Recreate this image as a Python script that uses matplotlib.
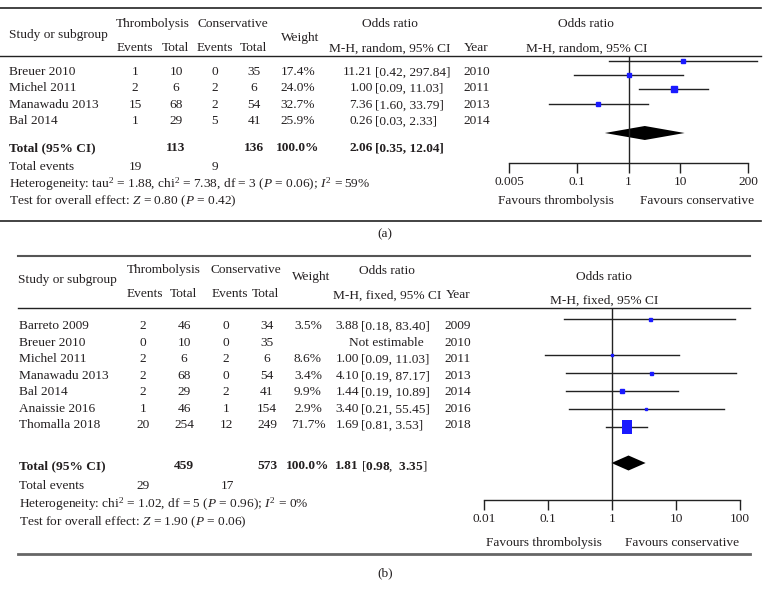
import matplotlib
matplotlib.use("Agg")
import matplotlib.pyplot as plt
from matplotlib.lines import Line2D
from matplotlib.path import Path

plt.rcParams['font.family'] = ['Liberation Serif', 'DejaVu Serif']
plt.rcParams['mathtext.fontset'] = 'custom'
plt.rcParams['mathtext.rm'] = 'Liberation Serif'
plt.rcParams['mathtext.it'] = 'Liberation Serif:italic'
plt.rcParams['mathtext.bf'] = 'Liberation Serif:bold'

# ---------------- data: panel (a) ----------------
a_studies = ['Breuer 2010', 'Michel 2011', 'Manawadu 2013', 'Bal 2014']
a_thr_events = [1, 2, 15, 1]
a_thr_total = [10, 6, 68, 29]
a_con_events = [0, 2, 2, 5]
a_con_total = [35, 6, 54, 41]
a_weight = ['17.4%', '24.0%', '32.7%', '25.9%']
a_or = [11.21, 1.00, 7.36, 0.26]
a_lo = [0.42, 0.09, 1.60, 0.03]
a_hi = [297.84, 11.03, 33.79, 2.33]
a_year = ['2010', '2011', '2013', '2014']
a_sum_totals = [113, 136]
a_sum_or = [2.06, 0.35, 12.04]
a_sum_events = [19, 9]
a_het = r"Heterogeneity: tau$^{2}$ = 1.88, chi$^{2}$ = 7.38, df = 3 ($P$ = 0.06); $I^{\mathrm{2}}$ = 59%"
a_test = r"Test for overall effect: $Z$ = 0.80 ($P$ = 0.42)"
a_ticks = [0.005, 0.1, 1, 10, 200]
a_ticklabels = ['0.005', '0.1', '1', '10', '200']

# ---------------- data: panel (b) ----------------
b_studies = ['Barreto 2009', 'Breuer 2010', 'Michel 2011', 'Manawadu 2013', 'Bal 2014',
             'Anaissie 2016', 'Thomalla 2018']
b_thr_events = [2, 0, 2, 2, 2, 1, 20]
b_thr_total = [46, 10, 6, 68, 29, 46, 254]
b_con_events = [0, 0, 2, 0, 2, 1, 12]
b_con_total = [34, 35, 6, 54, 41, 154, 249]
b_weight = ['3.5%', '', '8.6%', '3.4%', '9.9%', '2.9%', '71.7%']
b_or = [3.88, None, 1.00, 4.10, 1.44, 3.40, 1.69]
b_lo = [0.18, None, 0.09, 0.19, 0.19, 0.21, 0.81]
b_hi = [83.40, None, 11.03, 87.17, 10.89, 55.45, 3.53]
b_year = ['2009', '2010', '2011', '2013', '2014', '2016', '2018']
b_sum_totals = [459, 573]
b_sum_or = [1.81, 0.98, 3.35]
b_sum_events = [29, 17]
b_het = r"Heterogeneity: chi$^{2}$ = 1.02, df = 5 ($P$ = 0.96); $I^{\mathrm{2}}$ = 0%"
b_test = r"Test for overall effect: $Z$ = 1.90 ($P$ = 0.06)"
b_ticks = [0.01, 0.1, 1, 10, 100]
b_ticklabels = ['0.01', '0.1', '1', '10', '100']

# ---------------- layout ----------------
W, H = 770, 597
FS = 9.6
TXT = '#231f20'
BLUE = '#1a1aff'
PT = 0.72  # points per pixel at 100 dpi

fig = plt.figure(figsize=(W / 100, H / 100), dpi=100)


def T(x, y, s, ha='left', bold=False, size=FS, color=TXT):
    fig.text(x / W, 1 - (y + 4.3) / H, s, ha=ha, va='baseline', fontsize=size,
             fontweight='bold' if bold else 'normal', color=color)


def HL(x0, x1, y, lw=1.0, color='#222222'):
    fig.add_artist(Line2D([x0 / W, x1 / W], [1 - y / H, 1 - y / H],
                          transform=fig.transFigure, color=color, lw=lw))


def fmt_ci(lo, hi):
    return f"[{lo:.2f}, {hi:.2f}]"


def forest_axes(x0, x1, ytop, ybot, xlim, ticks, labels):
    ax = fig.add_axes([x0 / W, 1 - ybot / H, (x1 - x0) / W, (ybot - ytop) / H])
    ax.set_xscale('log')
    ax.set_xlim(*xlim)
    ax.set_ylim(ybot, ytop)
    ax.patch.set_alpha(0)
    for s in ['top', 'left', 'right']:
        ax.spines[s].set_visible(False)
    ax.spines['bottom'].set_color('#222222')
    ax.spines['bottom'].set_linewidth(1.0)
    ax.set_xticks(ticks)
    ax.set_xticklabels(labels, fontsize=FS, color=TXT)
    ax.minorticks_off()
    ax.tick_params(axis='x', which='major', direction='out', length=7, width=1.0,
                   color='#222222', pad=2.5)
    ax.set_yticks([])
    ax.axvline(1, color='#222222', lw=1.0)
    return ax


# ======================= Panel (a) =======================
HL(0, 761, 8, lw=1.2)
HL(0, 761, 56, lw=1.0)
HL(0, 761, 221, lw=1.2)

T(9, 34, 'Study or subgroup')
T(153, 23, 'Thrombolysis', ha='center')
T(233, 23, 'Conservative', ha='center')
for xc, s in zip([135, 175, 215, 253], ['Events', 'Total', 'Events', 'Total']):
    T(xc, 47, s, ha='center')
T(300, 37, 'Weight', ha='center')
T(390, 23, 'Odds ratio', ha='center')
T(390, 47, 'M-H, random, 95% CI', ha='center')
T(476, 47, 'Year', ha='center')
T(586, 23, 'Odds ratio', ha='center')
T(587, 47, 'M-H, random, 95% CI', ha='center')

a_rows = [71, 87, 104, 120]
for i, y in enumerate(a_rows):
    T(9, y, a_studies[i])
    T(135, y, str(a_thr_events[i]), ha='center')
    T(176, y, str(a_thr_total[i]), ha='center')
    T(215, y, str(a_con_events[i]), ha='center')
    T(254, y, str(a_con_total[i]), ha='center')
    T(298, y, a_weight[i], ha='center')
    T(373, y, f"{a_or[i]:.2f}", ha='right')
    T(375, y, fmt_ci(a_lo[i], a_hi[i]))
    T(477, y, a_year[i], ha='center')

yT = 147
T(9, yT, 'Total (95% CI)', bold=True)
T(176, yT, str(a_sum_totals[0]), ha='center', bold=True)
T(254, yT, str(a_sum_totals[1]), ha='center', bold=True)
T(298, yT, '100.0%', ha='center', bold=True)
T(373, yT, f"{a_sum_or[0]:.2f}", ha='right', bold=True)
T(375, yT, fmt_ci(a_sum_or[1], a_sum_or[2]), bold=True)
T(9, 166, 'Total events')
T(135, 166, str(a_sum_events[0]), ha='center')
T(215, 166, str(a_sum_events[1]), ha='center')
T(9, 183, a_het)
T(9, 200, a_test)
T(556, 200, 'Favours thrombolysis', ha='center')
T(697, 200, 'Favours conservative', ha='center')
T(385, 233, '(a)', ha='center')

axa = forest_axes(509, 748, 56, 163, (0.005, 200), a_ticks, a_ticklabels)
a_plot_y = [61, 75, 89, 104]
a_ms = [4, 5, 6, 4.5]
for i, y in enumerate(a_plot_y):
    axa.plot([a_lo[i], a_hi[i]], [y, y], color='#222222', lw=1.0, clip_on=False)
    axa.plot(a_or[i], y, marker='s', ms=a_ms[i] * PT, color=BLUE, mec=BLUE, clip_on=False)
yd, hd = 133, 14
axa.fill([a_sum_or[1], a_sum_or[0], a_sum_or[2], a_sum_or[0]],
         [yd, yd - hd / 2, yd, yd + hd / 2], color='black', lw=0, clip_on=False)

# ======================= Panel (b) =======================
HL(18, 750, 256, lw=1.5, color='#555555')
HL(18, 750, 308, lw=1.0)
HL(18, 750, 554, lw=2.0, color='#666666')

T(18, 279, 'Study or subgroup')
T(164, 269, 'Thrombolysis', ha='center')
T(246, 269, 'Conservative', ha='center')
for xc, s in zip([145, 184, 230, 265], ['Events', 'Total', 'Events', 'Total']):
    T(xc, 293, s, ha='center')
T(311, 276, 'Weight', ha='center')
T(387, 270, 'Odds ratio', ha='center')
T(387, 294, 'M-H, fixed, 95% CI', ha='center')
T(458, 294, 'Year', ha='center')
T(604, 276, 'Odds ratio', ha='center')
T(604, 299, 'M-H, fixed, 95% CI', ha='center')

b_rows = [325, 342, 358, 375, 391, 408, 424]
for i, y in enumerate(b_rows):
    T(19, y, b_studies[i])
    T(143, y, str(b_thr_events[i]), ha='center')
    T(184, y, str(b_thr_total[i]), ha='center')
    T(226, y, str(b_con_events[i]), ha='center')
    T(267, y, str(b_con_total[i]), ha='center')
    T(308, y, b_weight[i], ha='center')
    if b_or[i] is None:
        T(386, y, 'Not estimable', ha='center')
    else:
        T(359, y, f"{b_or[i]:.2f}", ha='right')
        T(361, y, fmt_ci(b_lo[i], b_hi[i]))
    T(458, y, b_year[i], ha='center')

yT = 465
T(19, yT, 'Total (95% CI)', bold=True)
T(184, yT, str(b_sum_totals[0]), ha='center', bold=True)
T(267, yT, str(b_sum_totals[1]), ha='center', bold=True)
T(308, yT, '100.0%', ha='center', bold=True)
T(359, yT, f"{b_sum_or[0]:.2f}", ha='right', bold=True)
T(361, yT, r"[$\mathbf{" + f"{b_sum_or[1]:.2f}" + r"}$,  $\mathbf{" + f"{b_sum_or[2]:.2f}" + r"}$]")
T(19, 485, 'Total events')
T(143, 485, str(b_sum_events[0]), ha='center')
T(227, 485, str(b_sum_events[1]), ha='center')
T(19, 503, b_het)
T(19, 521, b_test)
T(544, 542, 'Favours thrombolysis', ha='center')
T(682, 542, 'Favours conservative', ha='center')
T(385, 572, '(b)', ha='center')

axb = forest_axes(484, 740, 308, 500, (0.01, 100), b_ticks, b_ticklabels)
b_plot_y = [319, 337, 355, 373, 391, 409, 427]
b_ms = [3, 0, 2.5, 3, 4, 2, 0]
for i, y in enumerate(b_plot_y):
    if b_or[i] is None:
        continue
    axb.plot([b_lo[i], b_hi[i]], [y, y], color='#222222', lw=1.0, clip_on=False)
    if i == 6:
        rect = Path([(-5, -7), (5, -7), (5, 7), (-5, 7), (-5, -7)],
                    [Path.MOVETO, Path.LINETO, Path.LINETO, Path.LINETO, Path.CLOSEPOLY])
        axb.plot(b_or[i], y, marker=rect, ms=14 * PT, color=BLUE, mec=BLUE, mew=0, clip_on=False)
    else:
        axb.plot(b_or[i], y, marker='s', ms=b_ms[i] * PT, color=BLUE, mec=BLUE, clip_on=False)
yd, hd = 463, 15
axb.fill([b_sum_or[1], b_sum_or[0], b_sum_or[2], b_sum_or[0]],
         [yd, yd - hd / 2, yd, yd + hd / 2], color='black', lw=0, clip_on=False)

fig.savefig('out.png', dpi=100, facecolor='white')
